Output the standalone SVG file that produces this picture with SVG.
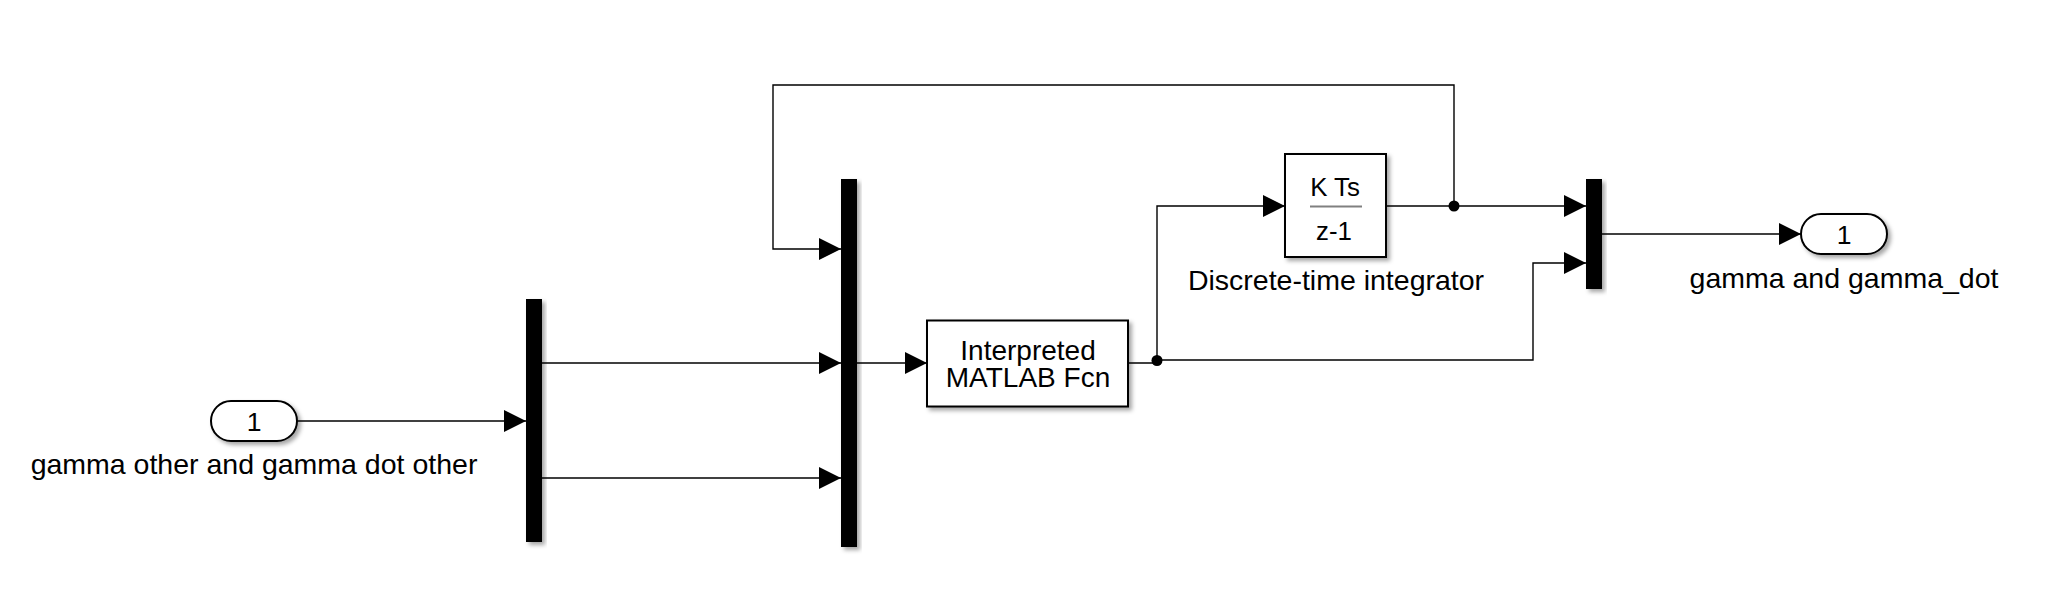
<svg xmlns="http://www.w3.org/2000/svg" width="2060" height="606" viewBox="0 0 2060 606">
  <style>
    text { font-family: "Liberation Sans", Arial, sans-serif; fill: #000; }
    .blk { fill: #fff; stroke: #000; stroke-width: 2; filter: url(#sh); }
    .bar { fill: #000; filter: url(#sh); }
    .lbl { font-size: 28.5px; text-anchor: middle; }
    .fn { font-size: 28px; text-anchor: middle; }
    .num { font-size: 26.5px; text-anchor: middle; }
    .fx { font-size: 25.8px; text-anchor: middle; }
    .arr { fill: none; stroke: #000; stroke-width: 1.4; marker-end: url(#ah); }
  </style>
  <defs>
    <filter id="sh" x="-30%" y="-30%" width="160%" height="160%">
      <feDropShadow dx="3" dy="3" stdDeviation="2" flood-color="#000" flood-opacity="0.35"/>
    </filter>
    <marker id="ah" viewBox="0 0 22 22" refX="22" refY="11" markerWidth="22" markerHeight="22" markerUnits="userSpaceOnUse" orient="auto">
      <path d="M0,0 L22,11 L0,22 z" fill="#000"/>
    </marker>
  </defs>
  <rect width="2060" height="606" fill="#fff"/>

  <g id="connectors">
    <path class="arr" d="M297,421 H526"/>
    <path class="arr" d="M542,363 H841"/>
    <path class="arr" d="M542,478 H841"/>
    <path class="arr" d="M857,363 H927"/>
    <path class="arr" d="M1128,363 H1157 V206 H1285"/>
    <path class="arr" d="M1157,360 H1533 V263 H1586"/>
    <path class="arr" d="M1386,206 H1586"/>
    <path class="arr" d="M1454,206 V85 H773 V249 H841"/>
    <path class="arr" d="M1602,234 H1801"/>
    <circle cx="1157" cy="360.5" r="5.5" fill="#000"/>
    <circle cx="1454" cy="206" r="5.5" fill="#000"/>
  </g>

  <g id="inport">
    <rect class="blk" x="211" y="401" width="86" height="40" rx="20" ry="20"/>
    <text class="num" x="254" y="430.5">1</text>
    <text class="lbl" x="254" y="474">gamma other and gamma dot other</text>
  </g>

  <g id="mux1">
    <rect class="bar" x="526" y="299" width="16" height="243"/>
  </g>

  <g id="mux2">
    <rect class="bar" x="841" y="179" width="16" height="368"/>
  </g>

  <g id="interpreted">
    <rect class="blk" x="927" y="320.5" width="201" height="86"/>
    <text class="fn" x="1028" y="359.5">Interpreted</text>
    <text class="fn" x="1028" y="387">MATLAB Fcn</text>
  </g>

  <g id="integrator">
    <rect class="blk" x="1285" y="154" width="101" height="103"/>
    <text class="fx" x="1335" y="196">K Ts</text>
    <line x1="1310" y1="206.5" x2="1362" y2="206.5" stroke="#808080" stroke-width="2"/>
    <text class="fx" x="1334" y="240">z-1</text>
    <text class="lbl" x="1336" y="290">Discrete-time integrator</text>
  </g>

  <g id="mux3">
    <rect class="bar" x="1586" y="179" width="16" height="110"/>
  </g>

  <g id="outport">
    <rect class="blk" x="1801" y="214" width="86" height="40" rx="20" ry="20"/>
    <text class="num" x="1844" y="244.3">1</text>
    <text class="lbl" x="1844" y="288.3">gamma and gamma_dot</text>
  </g>
</svg>
